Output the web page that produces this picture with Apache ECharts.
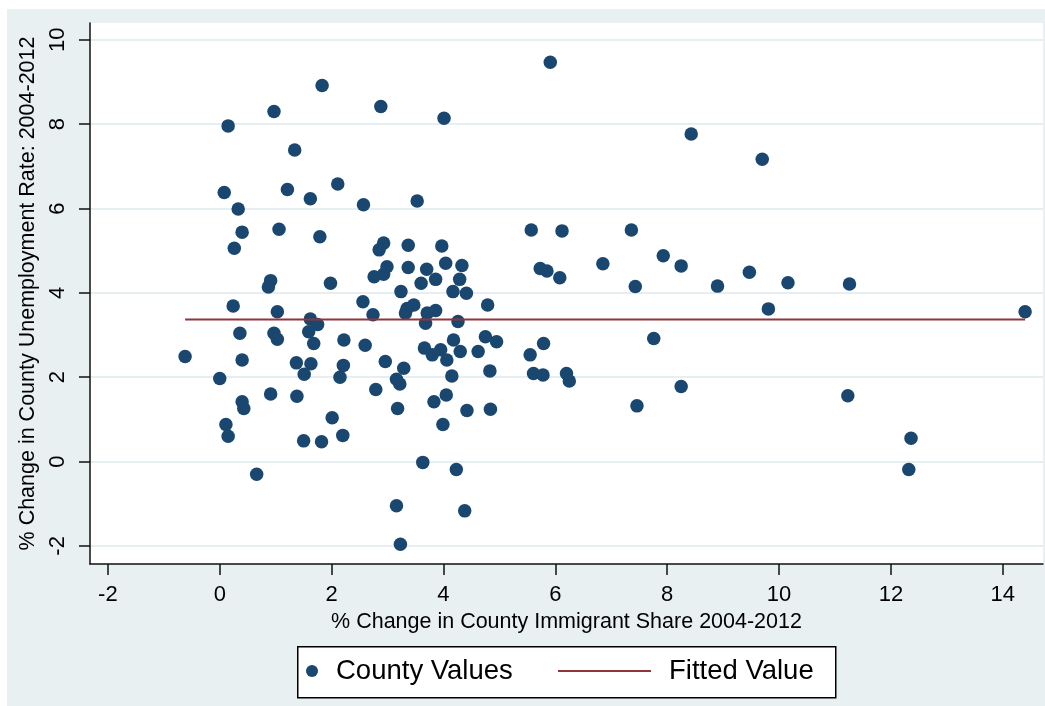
<!DOCTYPE html>
<html>
<head>
<meta charset="utf-8">
<script src="https://cdn.jsdelivr.net/npm/echarts@6/dist/echarts.min.js"></script>
<style>
    html, body { margin: 0; padding: 0; background: #fff; }
    #main { position: absolute; left: 7px; top: 9px; width: 1038px; height: 697px; }
</style>
</head>
<body>
<div id="main"></div>
<script>
// county scatter values (x = % change immigrant share, y = % change unemployment)
var countyX = [
    0.15, 0.97, 1.83, 1.34, 0.08, 1.21, 1.62, 2.11, 0.33, 0.40,
    0.26, 1.06, 1.79, 0.91, 0.87, 1.98, 0.24, 1.03, 1.62, 1.75,
    1.59, 1.68, 0.36, 0.97, 1.03, 2.22, -0.62, 0.40, 1.37, 1.63,
    1.51, 2.21, 2.15, 0.00, 0.91, 1.38, 0.40, 0.43, 2.01, 0.11,
    0.15, 1.50, 1.82, 2.20, 0.66,
    2.88, 4.01, 2.57, 3.53, 2.93, 2.85, 3.37, 3.97, 2.99, 2.76,
    2.93, 3.37, 3.70, 4.04, 4.33, 3.86, 3.60, 4.29, 3.24, 4.17,
    4.41, 2.56, 2.74, 3.35, 3.47, 3.32, 3.71, 3.86, 4.79, 3.68,
    4.26, 2.60, 3.66, 3.80, 3.95, 4.06, 4.18, 4.30, 4.62, 4.75,
    4.95, 2.96, 3.29, 4.83, 3.16, 4.15, 2.79, 3.22, 3.18, 3.83,
    4.05, 3.99, 4.42, 4.84, 3.63, 4.23, 3.16, 4.38, 3.23,
    5.57, 6.12, 7.36, 5.73, 5.85, 6.08, 6.85, 7.93, 8.25, 7.43,
    8.90, 9.47, 9.81, 10.16, 11.26, 5.79, 5.55, 5.61, 5.78, 6.20,
    6.25, 7.76, 8.25, 7.46, 11.23, 12.36, 12.32, 14.40, 5.91, 8.43,
    9.70
];
var countyY = [
    7.96, 8.30, 8.92, 7.39, 6.38, 6.45, 6.23, 6.58, 5.99, 5.44,
    5.06, 5.51, 5.33, 4.29, 4.14, 4.23, 3.69, 3.55, 3.38, 3.25,
    3.08, 2.80, 3.04, 3.04, 2.90, 2.88, 2.49, 2.41, 2.34, 2.32,
    2.07, 2.28, 2.00, 1.97, 1.60, 1.55, 1.42, 1.26, 1.04, 0.88,
    0.60, 0.49, 0.47, 0.62, -0.30,
    8.42, 8.14, 6.09, 6.18, 5.18, 5.02, 5.13, 5.11, 4.62, 4.38,
    4.44, 4.60, 4.56, 4.70, 4.65, 4.32, 4.23, 4.32, 4.03, 4.03,
    3.99, 3.79, 3.48, 3.63, 3.71, 3.52, 3.52, 3.58, 3.71, 3.28,
    3.32, 2.76, 2.69, 2.53, 2.65, 2.41, 2.88, 2.61, 2.61, 2.96,
    2.84, 2.37, 2.21, 2.15, 1.95, 2.03, 1.71, 1.84, 1.26, 1.42,
    1.58, 0.88, 1.21, 1.24, -0.02, -0.19, -1.05, -1.17, -1.96,
    5.49, 5.47, 5.49, 4.58, 4.52, 4.36, 4.69, 4.88, 4.64, 4.15,
    4.16, 4.49, 3.62, 4.24, 4.21, 2.80, 2.53, 2.09, 2.05, 2.09,
    1.91, 2.92, 1.78, 1.32, 1.56, 0.55, -0.19, 3.55, 9.47, 7.77,
    7.17
];
// fitted value line (flat)
var fitX = [-0.62, 14.40];
var fitY = [3.37, 3.37];

var xTicks = [-2, 0, 2, 4, 6, 8, 10, 12, 14];
var yTicks = [-2, 0, 2, 4, 6, 8, 10];

var xTitle = "% Change in County Immigrant Share 2004-2012";
var yTitle = "% Change in County Unemployment Rate: 2004-2012";
var seriesNames = ["County Values", "Fitted Value"];

var fontName = "'Liberation Sans', Arial, sans-serif";
var navy = "#1a476f";
var maroon = "#90353b";
var axisColor = "#111";

var ScatterChart = function (domId) {
    var oChart = new Object();
    oChart.myChart = echarts.init(document.getElementById(domId), null, { renderer: "canvas" });
    oChart.getPoints = function () {
        var arr = [];
        for (var i = 0; i < countyX.length; i++) {
            arr.push([countyX[i], countyY[i]]);
        }
        return arr;
    };
    oChart.getFit = function () {
        var arr = [];
        for (var i = 0; i < fitX.length; i++) {
            arr.push([fitX[i], fitY[i]]);
        }
        return arr;
    };
    oChart.drawChart = function () {
        var legendText = { fontSize: 27.5, color: "#000", fontFamily: fontName, padding: [0, 0, 0, 13], lineHeight: 30 };
        var option = {
            animation: false,
            backgroundColor: "#e9f0f2",
            textStyle: { fontFamily: fontName },
            grid: {
                left: 83, right: 2, top: 14, bottom: 142,
                show: true, backgroundColor: "#ffffff", borderWidth: 0
            },
            graphic: [{
                type: "rect",
                left: 290, top: 637,
                shape: { width: 538, height: 51 },
                style: { fill: "#ffffff", stroke: "#000", lineWidth: 1.5 },
                z: 1
            }],
            legend: [{
                data: [{ name: seriesNames[0], icon: "circle" }],
                left: 299, top: 647, padding: 0,
                itemWidth: 12, itemHeight: 12,
                textStyle: legendText,
                z: 5
            }, {
                data: [seriesNames[1]],
                left: 550, top: 647, padding: 0,
                itemWidth: 93, itemHeight: 12,
                itemStyle: { opacity: 0 },
                textStyle: legendText,
                z: 5
            }],
            xAxis: {
                type: "value",
                min: -2.32, max: 14.72,
                name: xTitle,
                nameLocation: "middle",
                nameGap: 43,
                nameTextStyle: { fontSize: 21.5, color: "#000", fontFamily: fontName },
                axisLine: { show: true, onZero: false, lineStyle: { color: axisColor, width: 1.5 } },
                axisTick: { show: true, length: 11, customValues: xTicks, lineStyle: { color: axisColor, width: 1.5 } },
                axisLabel: { customValues: xTicks, margin: 20, fontSize: 22, color: "#000", fontFamily: fontName },
                splitLine: { show: false }
            },
            yAxis: {
                type: "value",
                min: -2.43, max: 10.4,
                name: yTitle,
                nameLocation: "middle",
                nameRotate: 90,
                nameGap: 50,
                nameTextStyle: { fontSize: 21.5, color: "#000", fontFamily: fontName },
                axisLine: { show: true, onZero: false, lineStyle: { color: axisColor, width: 1.5 } },
                axisTick: { show: true, length: 11, customValues: yTicks, lineStyle: { color: axisColor, width: 1.5 } },
                axisLabel: { customValues: yTicks, rotate: 90, margin: 21, fontSize: 22, color: "#000", fontFamily: fontName },
                splitLine: { show: true, lineStyle: { color: "#e6eef1", width: 2 } }
            },
            series: [{
                name: seriesNames[0],
                type: "scatter",
                symbol: "circle",
                symbolSize: 13.5,
                itemStyle: { color: navy, opacity: 1 },
                data: oChart.getPoints(),
                z: 3
            }, {
                name: seriesNames[1],
                type: "line",
                symbol: "none",
                lineStyle: { color: maroon, width: 2 },
                itemStyle: { color: maroon },
                data: oChart.getFit(),
                z: 4
            }]
        };
        oChart.myChart.setOption(option);
    };
    return oChart;
};

var oScatter = new ScatterChart("main");
oScatter.drawChart();
</script>
</body>
</html>
